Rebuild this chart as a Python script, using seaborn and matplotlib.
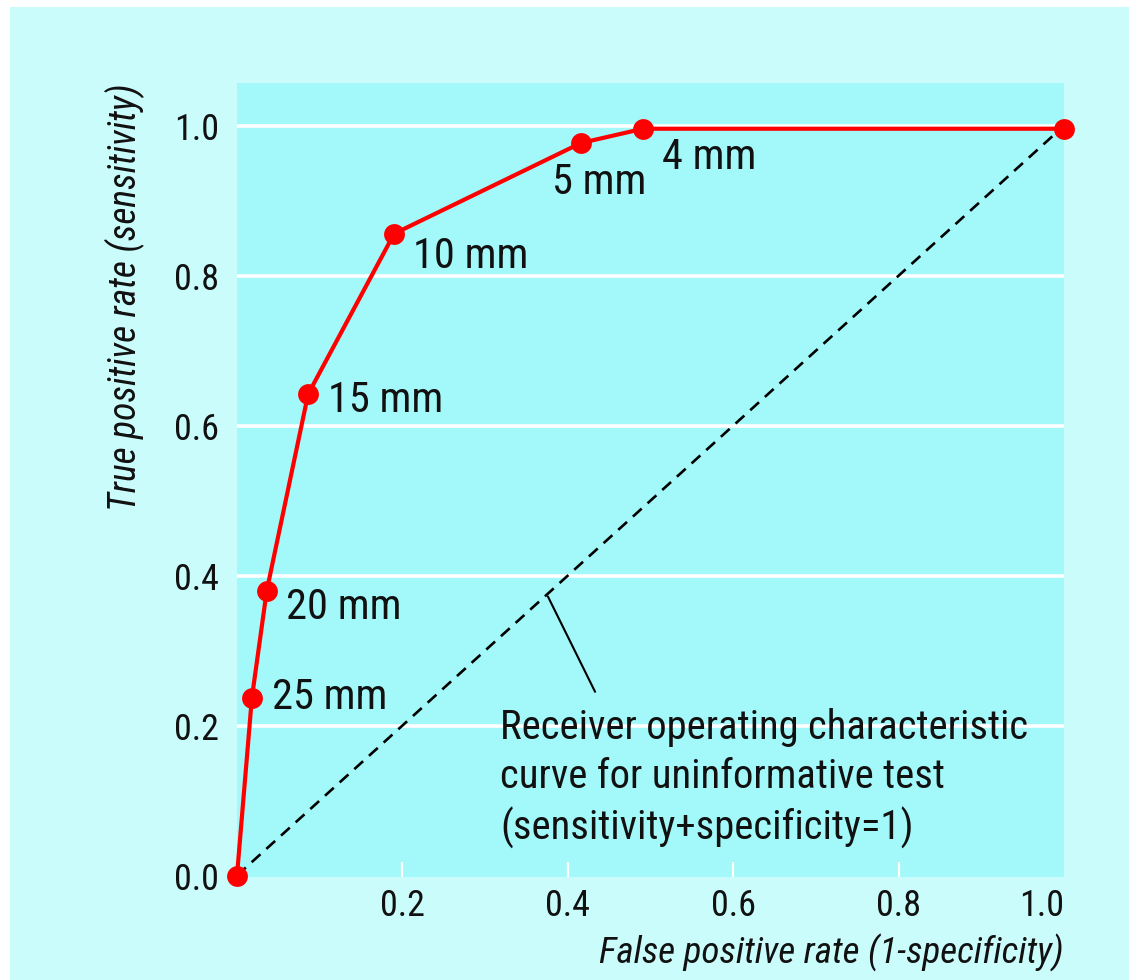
import matplotlib
matplotlib.use("Agg")
import matplotlib.pyplot as plt
from matplotlib.patches import Rectangle
import seaborn as sns
import pandas as pd

# ---- data ----
cutoffs = ["", "25 mm", "20 mm", "15 mm", "10 mm", "5 mm", "4 mm", ""]
fpr = [0.0, 0.018, 0.036, 0.086, 0.19, 0.416, 0.491, 1.0]
tpr = [0.0, 0.237, 0.38, 0.642, 0.856, 0.977, 0.996, 0.996]
diag_x = [0.0, 1.0]
diag_y = [0.0, 1.0]
x_ticks = [0.2, 0.4, 0.6, 0.8, 1.0]
y_ticks = [0.0, 0.2, 0.4, 0.6, 0.8, 1.0]
# label anchor (left edge, vertical centre) in data units
label_x = [None, 0.042, 0.059, 0.110, 0.213, 0.381, 0.514, None]
label_y = [None, 0.237, 0.358, 0.634, 0.825, 0.924, 0.957, None]
note_text = ("Receiver operating characteristic\n"
             "curve for uninformative test\n"
             "(sensitivity+specificity=1)")

OUTER = "#c9fcfb"
INNER = "#a3f9f9"
RED = "#ff0000"
FONT = ["Roboto Condensed", "Roboto", "DejaVu Sans"]

sns.set_theme(style="white")
plt.rcParams["font.family"] = FONT

df = pd.DataFrame({"fpr": fpr, "tpr": tpr})
ddf = pd.DataFrame({"x": diag_x, "y": diag_y})

fig = plt.figure(figsize=(11.29, 9.8), dpi=100, facecolor="white")
fig.patches.append(Rectangle((10 / 1129, 0), 1, 1 - 7 / 980,
                             transform=fig.transFigure, facecolor=OUTER,
                             edgecolor="none", zorder=-10))
ax = fig.add_axes([237 / 1129, 1 - 877 / 980, 827 / 1129, 794 / 980])
ax.set_facecolor(INNER)

sns.lineplot(data=ddf, x="x", y="y", ax=ax, color="black", linewidth=1.9,
             linestyle=(0, (4.5, 3)), zorder=2)
sns.lineplot(data=df, x="fpr", y="tpr", ax=ax, color=RED, linewidth=3,
             marker="o", markersize=15, markeredgewidth=0,
             markeredgecolor=RED, sort=False, zorder=3, clip_on=False)

ax.set_xlim(0, 1)
ax.set_ylim(-0.002, 1.057)
ax.set_xticks(x_ticks)
ax.set_xticklabels([f"{v:.1f}" for v in x_ticks])
ax.set_yticks(y_ticks)
ax.set_yticklabels([f"{v:.1f}" for v in y_ticks])
for s in ax.spines.values():
    s.set_visible(False)

ax.grid(axis="y", color="white", linewidth=2.6, zorder=1)
ax.grid(axis="x", visible=False)
ax.set_axisbelow(True)
ax.yaxis.get_major_ticks()[0].gridline.set_visible(False)

ax.tick_params(axis="x", direction="in", length=11, width=1.6, color="white",
               pad=8, labelsize=26, labelcolor="#111111", bottom=True)
ax.tick_params(axis="y", length=0, pad=13, labelsize=26, labelcolor="#111111")
ax.xaxis.get_major_ticks()[-1].tick1line.set_visible(False)
ax.get_xticklabels()[-1].set_ha("right")

ax.set_xlabel("False positive rate (1-specificity)", fontsize=26.7,
              style="italic", color="#111111", loc="right")
ax.xaxis.label.set_va("center")
ax.xaxis.set_label_coords(1.0, -(953 - 877) / 794)
ax.set_ylabel("True positive rate (sensitivity)", fontsize=27,
              style="italic", color="#111111", loc="top")
ax.yaxis.label.set_va("center")
ax.yaxis.set_label_coords((125 - 237) / 827, 1.0)

for lab, lx, ly in zip(cutoffs, label_x, label_y):
    if lab:
        ax.text(lx, ly, lab, fontsize=30.5, color="#111111",
                ha="left", va="center", zorder=4)

ax.plot([0.376, 0.433], [0.372, 0.245], color="black", linewidth=1.5, zorder=2)
ax.text(0.318, 0.224, note_text, fontsize=29.3, color="#111111",
        ha="left", va="top", linespacing=1.33, zorder=4)

fig.savefig("out.png", dpi=100, facecolor="white")
